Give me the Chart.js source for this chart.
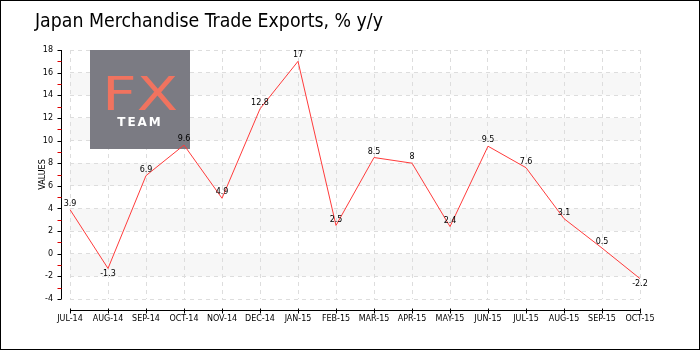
<!DOCTYPE html>
<html>
<head>
<meta charset="utf-8">
<script src="https://cdn.jsdelivr.net/npm/chart.js@4.4.1/dist/chart.umd.min.js"></script>
<style>
html,body{margin:0;padding:0;background:#fff;}
canvas{display:block;}
</style>
</head>
<body>
<canvas id="c" width="700" height="350"></canvas>
<script>
const categories = ['JUL-14','AUG-14','SEP-14','OCT-14','NOV-14','DEC-14','JAN-15','FEB-15','MAR-15','APR-15','MAY-15','JUN-15','JUL-15','AUG-15','SEP-15','OCT-15'];
const exportsYoY = [3.9,-1.3,6.9,9.6,4.9,12.8,17,2.5,8.5,8,2.4,9.5,7.6,3.1,0.5,-2.2];
const valueLabels = ['3.9','-1.3','6.9','9.6','4.9','12.8','17','2.5','8.5','8','2.4','9.5','7.6','3.1','0.5','-2.2'];
const yMin = -4, yMax = 18, yStep = 2;
const shadedBands = [[14,16],[10,12],[6,8],[2,4],[-2,0]];
const titleText = 'Japan Merchandise Trade Exports, % y/y';
const axisTitle = 'VALUES';

const smallFont = '8px "DejaVu Sans"';

const decor = {
  id: 'decor',
  beforeDraw(chart) {
    const ctx = chart.ctx, a = chart.chartArea, ys = chart.scales.y;
    ctx.save();
    ctx.fillStyle = '#ffffff';
    ctx.fillRect(0, 0, chart.width, chart.height);
    ctx.fillStyle = '#f7f7f7';
    shadedBands.forEach(([lo, hi]) => {
      const y1 = ys.getPixelForValue(hi), y2 = ys.getPixelForValue(lo);
      ctx.fillRect(a.left, y1, a.right - a.left, y2 - y1);
    });
    ctx.restore();
  },
  beforeDatasetsDraw(chart) {
    const ctx = chart.ctx;
    ctx.save();
    ctx.fillStyle = '#7b7b83';
    ctx.fillRect(90, 50, 100, 99);
    ctx.fillStyle = '#f0735f';
    ctx.font = '46px "DejaVu Sans"';
    ctx.textAlign = 'center';
    ctx.textBaseline = 'alphabetic';
    const w = ctx.measureText('FX').width;
    ctx.translate(140, 110);
    ctx.scale(76 / w, 1);
    ctx.fillText('FX', 0, 0);
    ctx.restore();
    ctx.save();
    ctx.fillStyle = '#ffffff';
    ctx.font = 'bold 12px "DejaVu Sans"';
    ctx.textAlign = 'center';
    ctx.textBaseline = 'alphabetic';
    if ('letterSpacing' in ctx) ctx.letterSpacing = '2px';
    ctx.fillText('TEAM', 140, 126);
    ctx.restore();
  },
  afterDatasetsDraw(chart) {
    const ctx = chart.ctx, a = chart.chartArea, ys = chart.scales.y, xs = chart.scales.x;
    ctx.save();
    ctx.font = smallFont;
    ctx.fillStyle = '#000';
    ctx.textAlign = 'center';
    ctx.textBaseline = 'middle';
    exportsYoY.forEach((v, i) => {
      const px = xs.getPixelForValue(i), py = ys.getPixelForValue(v);
      ctx.fillText(valueLabels[i], px, v < 0 ? py + 5 : py - 6);
    });
    const ax = Math.round(a.left - 9) + 0.5;
    const yTop = ys.getPixelForValue(yMax), yBot = ys.getPixelForValue(yMin);
    ctx.strokeStyle = '#000';
    ctx.lineWidth = 1;
    ctx.beginPath();
    ctx.moveTo(ax, yTop); ctx.lineTo(ax, yBot);
    ctx.stroke();
    for (let v = yMin; v <= yMax; v++) {
      const py = Math.round(ys.getPixelForValue(v)) + 0.5;
      ctx.strokeStyle = (v % 2 === 0) ? '#000' : '#e00000';
      ctx.beginPath();
      ctx.moveTo(ax - 4, py); ctx.lineTo(ax, py);
      ctx.stroke();
    }
    const ay = Math.round(a.bottom + 11) + 0.5;
    ctx.strokeStyle = '#000';
    ctx.beginPath();
    ctx.moveTo(a.left, ay); ctx.lineTo(a.right, ay);
    ctx.stroke();
    categories.forEach((c, i) => {
      const px = Math.round(xs.getPixelForValue(i)) + 0.5;
      ctx.beginPath();
      ctx.moveTo(px, ay - 2); ctx.lineTo(px, ay + 3);
      ctx.stroke();
    });
    ctx.save();
    ctx.translate(43, (a.top + a.bottom) / 2);
    ctx.rotate(-Math.PI / 2);
    ctx.font = smallFont;
    ctx.textAlign = 'center';
    ctx.textBaseline = 'middle';
    ctx.fillText(axisTitle, 0, 0);
    ctx.restore();
    ctx.save();
    ctx.font = '19px "DejaVu Sans Condensed", "DejaVu Sans"';
    ctx.textAlign = 'left';
    ctx.textBaseline = 'middle';
    ctx.fillStyle = '#000';
    const tw = ctx.measureText(titleText).width;
    ctx.translate(35, 22);
    ctx.scale(348 / tw, 1);
    ctx.fillText(titleText, 0, 0);
    ctx.restore();
    ctx.strokeStyle = '#000';
    ctx.strokeRect(0.5, 0.5, chart.width - 1, chart.height - 1);
    ctx.restore();
  }
};

new Chart(document.getElementById('c'), {
  type: 'line',
  data: {
    labels: categories,
    datasets: [{
      data: exportsYoY,
      borderColor: '#ff3b3b',
      borderWidth: 1,
      pointRadius: 0,
      fill: false,
      tension: 0
    }]
  },
  plugins: [decor],
  options: {
    responsive: false,
    animation: false,
    devicePixelRatio: 1,
    layout: { padding: { top: 50, right: 60, left: 0, bottom: 0 } },
    plugins: { legend: { display: false }, tooltip: { enabled: false }, title: { display: false } },
    scales: {
      x: {
        offset: false,
        border: { display: false, dash: [4, 4] },
        grid: { color: '#dddddd', drawTicks: false },
        ticks: { font: { family: 'DejaVu Sans', size: 8 }, color: '#000', maxRotation: 0, autoSkip: false, padding: 15 },
        afterFit(s) { s.height = 51; }
      },
      y: {
        min: yMin, max: yMax,
        border: { display: false, dash: [4, 4] },
        grid: { color: '#dddddd', drawTicks: false },
        ticks: { stepSize: yStep, font: { family: 'DejaVu Sans', size: 8 }, color: '#000', padding: 17 },
        afterFit(s) { s.width = 70; }
      }
    }
  }
});
</script>
</body>
</html>
